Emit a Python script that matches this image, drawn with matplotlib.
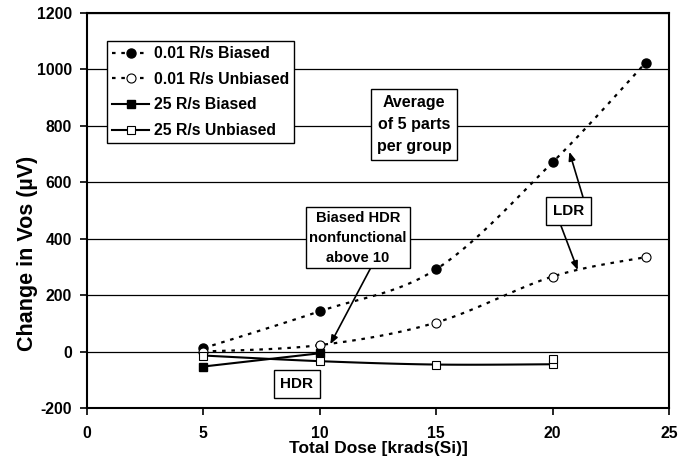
import matplotlib
matplotlib.use("Agg")
import matplotlib.pyplot as plt
import numpy as np

plt.rcParams["font.family"] = ["Liberation Sans", "DejaVu Sans"]
plt.rcParams["font.weight"] = "bold"

# Vos shift (µV) versus total dose (krads(Si))
dose_ldr = [5, 10, 15, 20, 24]
ldr_biased = [12, 143, 292, 671, 1024]
ldr_unbiased = [0, 23, 103, 266, 335]

dose_hdr_biased = [5, 10]
hdr_biased = [-53, -6]

dose_hdr_unbiased = [5, 10, 15, 20]
hdr_unbiased = [-14, -34, -46, -45]
# repeat reading of the unbiased HDR group at 20 krads
dose_hdr_unbiased_repeat = [20]
hdr_unbiased_repeat = [-27]

series_labels = ["0.01 R/s Biased", "0.01 R/s Unbiased", "25 R/s Biased", "25 R/s Unbiased"]
x_ticks = [0, 5, 10, 15, 20, 25]
y_ticks = [-200, 0, 200, 400, 600, 800, 1000, 1200]


def smooth(xs, ys, n=30):
    """Cubic Bezier smoothing through the points (spreadsheet-style smoothed line)."""
    p = np.column_stack([xs, ys]).astype(float)
    if len(p) < 3:
        return p[:, 0], p[:, 1]
    out = []
    t = np.linspace(0, 1, n)[:, None]
    for i in range(len(p) - 1):
        p0 = p[max(i - 1, 0)]
        p1 = p[i]
        p2 = p[i + 1]
        p3 = p[min(i + 2, len(p) - 1)]
        c1 = p1 + (p2 - p0) / 6.0
        c2 = p2 - (p3 - p1) / 6.0
        seg = ((1 - t) ** 3) * p1 + 3 * ((1 - t) ** 2) * t * c1 + 3 * (1 - t) * t ** 2 * c2 + t ** 3 * p2
        out.append(seg if i == 0 else seg[1:])
    out = np.vstack(out)
    return out[:, 0], out[:, 1]


fig = plt.figure(figsize=(6.96, 4.63), dpi=100)
ax = fig.add_axes([87 / 696, 55 / 463, 582 / 696, 395 / 463])

dotted = (0, (1.6, 2.6))
lw_dot = 1.6
lw_solid = 1.5

# low dose rate curves
sx, sy = smooth(dose_ldr, ldr_biased)
ax.plot(sx, sy, color="black", lw=lw_dot, ls=dotted, zorder=3)
ax.plot(dose_ldr, ldr_biased, ls="none", marker="o", ms=6.5, mfc="black", mec="black", zorder=4)

sx, sy = smooth(dose_ldr, ldr_unbiased)
ax.plot(sx, sy, color="black", lw=lw_dot, ls=dotted, zorder=3)
ax.plot(dose_ldr, ldr_unbiased, ls="none", marker="o", ms=6.5, mfc="white", mec="black", mew=0.8, zorder=4)

# high dose rate curves
ax.plot(dose_hdr_biased, hdr_biased, color="black", lw=lw_solid, zorder=3)
ax.plot(dose_hdr_biased, hdr_biased, ls="none", marker="s", ms=6, mfc="black", mec="black", zorder=4)

sx, sy = smooth(dose_hdr_unbiased, hdr_unbiased)
ax.plot(sx, sy, color="black", lw=lw_solid, zorder=3)
ax.plot(dose_hdr_unbiased, hdr_unbiased, ls="none", marker="s", ms=6, mfc="white", mec="black", mew=0.8, zorder=4)
ax.plot(dose_hdr_unbiased_repeat, hdr_unbiased_repeat, ls="none", marker="s", ms=6,
        mfc="white", mec="black", mew=0.8, zorder=4)

# legend proxies
h1, = ax.plot([], [], color="black", lw=lw_dot, ls=dotted, marker="o", ms=6.5, mfc="black", mec="black")
h2, = ax.plot([], [], color="black", lw=lw_dot, ls=dotted, marker="o", ms=6.5, mfc="white", mec="black", mew=0.8)
h3, = ax.plot([], [], color="black", lw=lw_solid, marker="s", ms=6, mfc="black", mec="black")
h4, = ax.plot([], [], color="black", lw=lw_solid, marker="s", ms=6, mfc="white", mec="black", mew=0.8)
leg = ax.legend([h1, h2, h3, h4], series_labels, loc="upper left",
                bbox_to_anchor=(0.034, 0.929), borderaxespad=0, fancybox=False,
                framealpha=1, edgecolor="black", fontsize=11.3, handlelength=2.4,
                handletextpad=0.3, labelspacing=0.68, borderpad=0.32)
leg.get_frame().set_linewidth(1.0)
leg.set_zorder(6)

ax.set_xlim(0, 25)
ax.set_ylim(-200, 1200)
ax.set_xticks(x_ticks)
ax.set_yticks(y_ticks)
ax.set_xticklabels([str(v) for v in x_ticks])
ax.set_yticklabels([str(v) for v in y_ticks])
ax.tick_params(axis="x", direction="out", length=5, width=1.2, pad=8, labelsize=11.3)
ax.tick_params(axis="y", direction="out", length=5, width=1.2, pad=6, labelsize=11.3)
ax.grid(axis="y", color="black", lw=0.9)
ax.set_axisbelow(True)
for s in ax.spines.values():
    s.set_linewidth(1.5)

ax.set_xlabel("Total Dose [krads(Si)]", fontsize=12.5, fontweight="bold")
ax.set_ylabel("Change in Vos (µV)", fontsize=15.5, fontweight="bold")
ax.xaxis.set_label_coords(0.5, -0.083)
ax.yaxis.set_label_coords(-0.084, 0.392)

box = dict(boxstyle="square,pad=0.35", fc="white", ec="black", lw=1.0)
arrow = dict(arrowstyle="-|>,head_length=0.5,head_width=0.2", color="black", lw=1.2,
             shrinkA=0, shrinkB=0)

ax.text(14.05, 804, "Average\nof 5 parts\nper group", ha="center", va="center",
        fontsize=11.5, linespacing=1.6, bbox=box, zorder=6)

ax.annotate("", xy=(10.45, 26), xytext=(12.19, 297), arrowprops=arrow, zorder=5)
ax.text(11.64, 404, "Biased HDR\nnonfunctional\nabove 10", ha="center", va="center",
        fontsize=10.6, linespacing=1.55,
        bbox=dict(boxstyle="square,pad=0.25", fc="white", ec="black", lw=1.0), zorder=6)

ax.annotate("", xy=(20.72, 708), xytext=(21.3, 549), arrowprops=arrow, zorder=5)
ax.annotate("", xy=(21.08, 289), xytext=(20.35, 448), arrowprops=arrow, zorder=5)
ax.text(20.7, 498, "LDR", ha="center", va="center", fontsize=11,
        bbox=dict(boxstyle="square,pad=0.45", fc="white", ec="black", lw=1.0), zorder=6)

ax.text(9.02, -115, "HDR", ha="center", va="center", fontsize=11,
        bbox=dict(boxstyle="square,pad=0.45", fc="white", ec="black", lw=1.0), zorder=6)

fig.savefig("out.png", dpi=100)
